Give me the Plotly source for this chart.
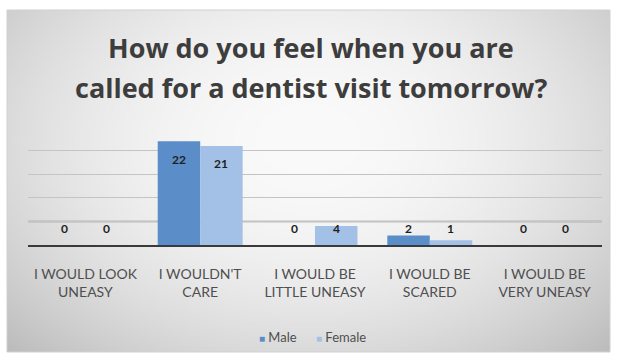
import base64
import struct
import zlib

import numpy as np
import plotly.graph_objects as go

# ---------------- data ----------------
categories = [
    "I WOULD LOOK<br>UNEASY",
    "I WOULDN'T<br>CARE",
    "I WOULD BE<br>LITTLE UNEASY",
    "I WOULD BE<br>SCARED",
    "I WOULD BE<br>VERY UNEASY",
]
male = [0, 22, 0, 2, 0]
female = [0, 21, 4, 1, 0]
series_names = ["Male", "Female"]
title_lines = ["How do you feel when you are", "called for a dentist visit tomorrow?"]

# ---------------- style ----------------
W, H = 617, 362
ML, MR, MT, MB = 28, 15, 127, 117
MALE_COLOR = "#5b8dc9"
FEMALE_COLOR = "#a3c1e6"
TEXT_GRAY = "#4f4f4f"
FONT = "Lato"


def gradient_png(w=240, h=136):
    ys, xs = np.mgrid[0:h, 0:w]
    dx = (xs / (w - 1) - 0.5) / 0.5
    dy = (ys / (h - 1) - 0.38) / 0.62
    r2 = (dx ** 2 + dy ** 2) / 2.0
    v = np.clip(250 - 62 * r2, 0, 255).astype(np.uint8)
    rgb = np.stack([v, v, v], axis=-1)
    raw = b"".join(b"\x00" + rgb[i].tobytes() for i in range(h))

    def chunk(tag, data):
        c = struct.pack(">I", len(data)) + tag + data
        return c + struct.pack(">I", zlib.crc32(tag + data) & 0xFFFFFFFF)

    png = b"\x89PNG\r\n\x1a\n"
    png += chunk(b"IHDR", struct.pack(">IIBBBBB", w, h, 8, 2, 0, 0, 0))
    png += chunk(b"IDAT", zlib.compress(raw, 9))
    png += chunk(b"IEND", b"")
    return "data:image/png;base64," + base64.b64encode(png).decode()


pw = W - ML - MR
ph = H - MT - MB


def px_x(x):
    return (x - ML) / pw


def px_y(y):
    return (H - MB - y) / ph


# chart box in pixel coords -> paper coords
box_l, box_r, box_t, box_b = 7, 610, 10, 352
bx0, bx1 = px_x(box_l), px_x(box_r)
by1, by0 = px_y(box_t), px_y(box_b)

fig = go.Figure()
fig.add_trace(go.Bar(name=series_names[0], x=categories, y=male,
                     marker=dict(color=MALE_COLOR, line=dict(width=0))))
fig.add_trace(go.Bar(name=series_names[1], x=categories, y=female,
                     marker=dict(color=FEMALE_COLOR, line=dict(width=0))))

YMAX = 25
px_per_unit = ph / YMAX
annotations = []
for vals, shift in ((male, -21), (female, 21)):
    for c, v in zip(categories, vals):
        ypos = max(v - 18 / px_per_unit, 17 / px_per_unit)
        annotations.append(dict(x=c, y=ypos, xref="x", yref="y", text=str(v),
                                showarrow=False, xshift=shift,
                                font=dict(family=FONT, size=12, color="#1f1f1f", weight="bold")))

for line, ycen in zip(title_lines, (47, 87)):
    annotations.append(dict(x=px_x((box_l + box_r) / 2 + 2), y=px_y(ycen),
                            xref="paper", yref="paper",
                            xanchor="center", yanchor="middle", text=line, showarrow=False,
                            font=dict(family="Open Sans", size=27, color="#3d3d3d", weight="bold")))

# manual legend (small square swatches + names)
for name, col, lx in zip(series_names, (MALE_COLOR, FEMALE_COLOR), (257, 314)):
    annotations.append(dict(x=px_x(lx), y=px_y(337), xref="paper", yref="paper",
                            xanchor="left", yanchor="middle", showarrow=False,
                            text=f'<span style="color:{col};font-size:10px">■</span> {name}',
                            font=dict(family=FONT, size=13, color=TEXT_GRAY)))

fig.update_layout(
    width=W, height=H,
    margin=dict(l=ML, r=MR, t=MT, b=MB),
    paper_bgcolor="white",
    plot_bgcolor="rgba(0,0,0,0)",
    barmode="group", bargap=0.26, bargroupgap=0,
    showlegend=False,
    font=dict(family=FONT, color=TEXT_GRAY),
    xaxis=dict(showline=True, linecolor="#3a3a3a", linewidth=2, ticks="outside", ticklen=15,
               tickcolor="rgba(0,0,0,0)", tickfont=dict(family=FONT, size=14, color=TEXT_GRAY),
               showgrid=False),
    yaxis=dict(range=[0, YMAX], dtick=5, showticklabels=False, showgrid=True, gridcolor="#c4c4c4",
               gridwidth=1, zeroline=False, fixedrange=True),
    annotations=annotations,
    images=[dict(source=gradient_png(), xref="paper", yref="paper", x=bx0, y=by1,
                 sizex=bx1 - bx0, sizey=by1 - by0, sizing="stretch", xanchor="left", yanchor="top",
                 layer="below")],
    shapes=[
        dict(type="rect", xref="paper", yref="paper", x0=bx0, x1=bx1, y0=by0, y1=by1,
             line=dict(color="#d0d0d0", width=1), fillcolor="rgba(0,0,0,0)", layer="below"),
        dict(type="line", xref="paper", yref="y", x0=0, x1=1, y0=5, y1=5,
             line=dict(color="#8a8a8a", width=1.5), layer="below"),
    ],
)

fig.write_html("out.html")
